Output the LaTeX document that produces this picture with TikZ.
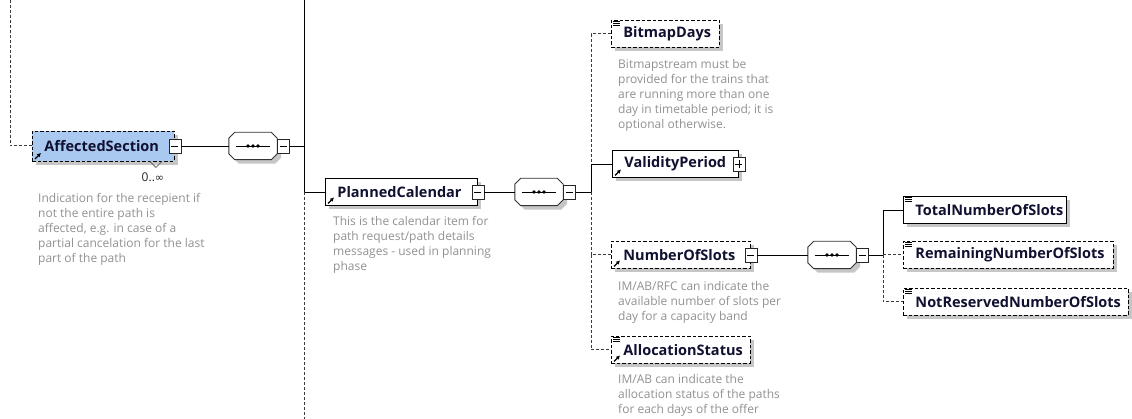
\documentclass[tikz,border=0pt]{standalone}
\usepackage{fontspec}
\setmainfont{Open Sans}
\newfontfamily\symfont{DejaVu Sans}
\usetikzlibrary{arrows.meta}
\definecolor{namecol}{HTML}{101030}
\definecolor{desccol}{HTML}{939090}
\definecolor{shadecol}{HTML}{C6C6C6}
\definecolor{selfill}{HTML}{A9C9F0}
\definecolor{optline}{HTML}{3A3A3A}
\newcommand\namefont{\fontsize{14.5}{16}\bfseries\selectfont}
\newcommand\descfont{\fontsize{12}{15}\selectfont}
% octagonal outline of a sequence compositor, built from the node's corners
\newcommand\octpath[2]{([xshift=#2]#1.north west) -- ([xshift=-#2]#1.north east)
  -- ([yshift=-#2]#1.north east) -- ([yshift=#2]#1.south east)
  -- ([xshift=-#2]#1.south east) -- ([xshift=#2]#1.south west)
  -- ([yshift=#2]#1.south west) -- ([yshift=-#2]#1.north west) -- cycle}
\newcommand\seqcomp[1]{%
  \fill[shadecol, transform canvas={shift={(4pt,-4pt)}}] \octpath{#1}{6pt};
  \filldraw[fill=white, draw=black!80, line width=0.9pt] \octpath{#1}{6pt};
  \draw[line width=0.9pt] ([xshift=7pt]#1.west) -- ([xshift=-7pt]#1.east);
  \foreach \d in {-5,0,5} \fill ([xshift=\d pt]#1.center) circle (1.8pt);}
% small "global reference" arrow at the lower left of an element box
\newcommand\refmark[1]{\draw[line width=1.2pt, -{Latex[length=3.8pt,width=4.2pt]}]
  ([shift={(3pt,2.5pt)}]#1.south west) -- ([shift={(9pt,8.5pt)}]#1.south west);}
% "simple content" mark at the upper left of an element box
\newcommand\textmark[1]{\foreach \k in {1.5,3.5,5.5}
  \draw[line width=0.8pt] ([shift={(2pt,-\k pt)}]#1.north west) -- ++(7,0);}
\tikzset{
  shade box/.style={preaction={fill=shadecol, draw=none, transform canvas={shift={(4pt,-4pt)}}}},
  elem/.style={draw=black, line width=0.9pt, fill=white, shade box, anchor=west,
    minimum height=27pt, inner xsep=0pt, inner ysep=0pt, text width=#1pt, align=left,
    font=\namefont, text=namecol,
    execute at begin node={\hspace*{12pt}\hyphenpenalty=10000\exhyphenpenalty=10000 }},
  optbox/.style={dash pattern=on 3.5pt off 2pt},
  desc/.style={anchor=north west, inner sep=0pt, align=left, font=\descfont, text=desccol},
  conn/.style={line width=0.9pt, draw=black},
  optconn/.style={line width=1pt, draw=optline, dash pattern=on 3pt off 2pt},
  btn/.style={draw=black!85, fill=white, line width=0.8pt, minimum width=12pt,
    minimum height=14pt, inner sep=0pt},
  comp/.style={minimum width=48pt, minimum height=27pt, inner sep=0pt},
}
\begin{document}
\begin{tikzpicture}[x=1pt,y=-1pt]
\useasboundingbox (0,0) rectangle (1132,419);

% ---------- element boxes ----------
\node[elem=142, optbox, fill=selfill, minimum height=30pt] (as) at (32,146) {AffectedSection};
\node[elem=152] (pc) at (325,192) {PlannedCalendar};
\node[elem=108, optbox] (bd) at (611,34) {BitmapDays};
\node[elem=126] (vp) at (612,164) {ValidityPeriod};
\node[elem=139, optbox] (nos) at (611,255) {NumberOfSlots};
\node[elem=139, optbox] (als) at (611,350) {AllocationStatus};
\node[elem=163] (tot) at (903,210) {TotalNumberOfSlots};
\node[elem=210, optbox] (rem) at (903,255) {RemainingNumberOfSlots};
\node[elem=225, optbox] (nres) at (903,302) {NotReservedNumberOfSlots};

\refmark{as} \refmark{pc} \refmark{vp} \refmark{nos} \refmark{als}
\textmark{bd} \textmark{als} \textmark{tot} \textmark{rem} \textmark{nres}

% expand / collapse buttons on the element boxes
\node[btn] (asb) at (as.east) {};
\node[btn] (pcb) at (pc.east) {};
\node[btn] (vpb) at (vp.east) {};
\node[btn] (nosb) at (nos.east) {};
\foreach \b in {asb,pcb,vpb,nosb}
  \draw[line width=0.8pt] ([xshift=-3.5pt]\b.center) -- ([xshift=3.5pt]\b.center);
\draw[line width=0.8pt] ([yshift=-4pt]vpb.center) -- ([yshift=4pt]vpb.center);

% multiplicity of AffectedSection
\draw[black!60, line width=0.8pt] ([xshift=-25pt]as.south east) -- ++(6,6) -- ++(6,-6);
\node[font=\fontsize{12}{14}\selectfont, text=black!85, inner sep=0pt] (asmult)
  at ([xshift=-22pt, yshift=-16pt]as.south east) {0..{\symfont\fontsize{11}{12}\selectfont ∞}};

% ---------- sequence compositors ----------
\node[comp] (c1) at (253,146) {};
\node[comp] (c2) at (539,192) {};
\node[comp] (c3) at (832,255) {};
\seqcomp{c1} \seqcomp{c2} \seqcomp{c3}
\node[btn, anchor=west] (c1b) at (c1.east) {};
\node[btn, anchor=west] (c2b) at (c2.east) {};
\node[btn, anchor=west] (c3b) at (c3.east) {};
\foreach \b in {c1b,c2b,c3b}
  \draw[line width=0.8pt] ([xshift=-3.5pt]\b.center) -- ([xshift=3.5pt]\b.center);

% ---------- connectors ----------
\coordinate (v0) at (10,0);
\coordinate (v1) at (304,0);
\coordinate (v1end) at (304,419);
\coordinate (v2) at (591,0);
\coordinate (v3) at (883,0);

\draw[optconn] (v0) |- (as.west);
\draw[conn] (asb.east) -- (c1.west);
\draw[conn] (c1b.east) -- (c1b.east -| v1);
\draw[conn] (v1) |- (pc.west);
\draw[optconn] (pc.west -| v1) -- (v1end);

\draw[conn] (pcb.east) -- (c2.west);
\draw[conn] (c2b.east) -- (c2b.east -| v2);
\draw[optconn] (bd.west) -| (vp.west -| v2);
\draw[conn] (vp.west) -| (c2b.east -| v2);
\draw[optconn] (c2b.east -| v2) |- (nos.west);
\draw[optconn] (nos.west -| v2) |- (als.west);

\draw[conn] (nosb.east) -- (c3.west);
\draw[conn] (c3b.east) -- (c3b.east -| v3);
\draw[conn] (c3b.east -| v3) |- (tot.west);
\draw[optconn] (c3b.east -| v3) -- (rem.west);
\draw[optconn] (rem.west -| v3) |- (nres.west);

% ---------- annotations ----------
\node[desc] (asd) at (38,193) {Indication for the recepient if\\not the entire path is\\affected, e.g. in case of a\\partial cancelation for the last\\part of the path};
\node[desc] (pcd) at (333,216) {This is the calendar item for\\path request/path details\\messages - used in planning\\phase};
\node[desc] (bdd) at (618,59) {Bitmapstream must be\\provided for the trains that\\are running more than one\\day in timetable period; it is\\optional otherwise.};
\node[desc] (nosd) at (618,281) {IM/AB/RFC can indicate the\\available number of slots per\\day for a capacity band};
\node[desc] (alsd) at (618,374) {IM/AB can indicate the\\allocation status of the paths\\for each days of the offer};
\end{tikzpicture}
\end{document}
